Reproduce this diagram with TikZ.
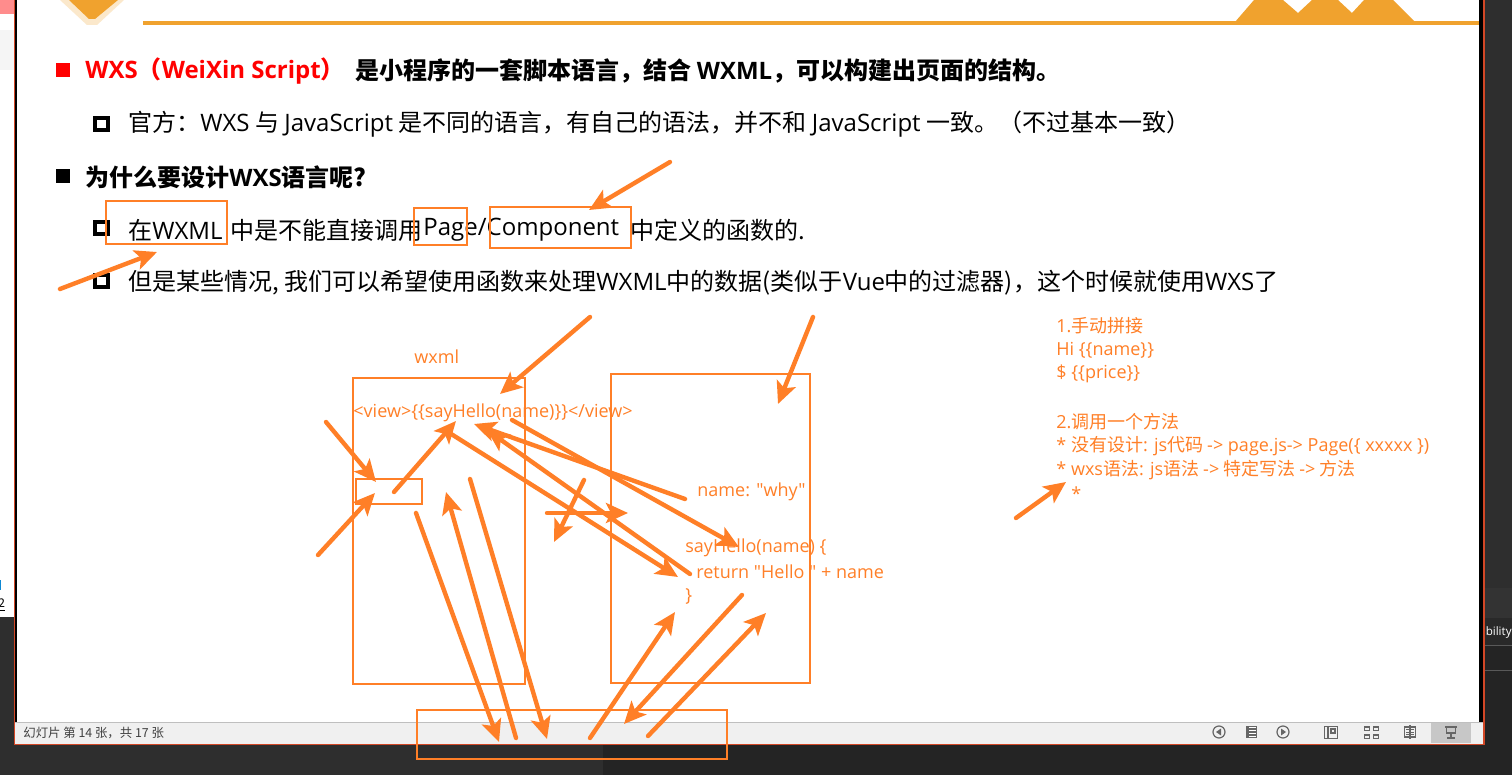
\documentclass[tikz,border=0pt]{standalone}
\usepackage{fontspec}
\setmainfont{Noto Sans CJK SC}[Ligatures=TeXOff]
\newfontfamily\latinfont{Open Sans}[Ligatures=TeXOff]
\usetikzlibrary{arrows.meta}

\definecolor{inkorange}{HTML}{FF7F27}
\definecolor{headeramber}{HTML}{F0A22E}
\definecolor{redge}{HTML}{D24726}
\definecolor{iconGrey}{HTML}{666666}

\newcommand{\lat}[1]{{\latinfont #1}}

\tikzset{
    slidetext/.style={anchor=west, inner sep=0pt, text=black, font=\fontsize{12}{14}\selectfont},
    boldtext/.style={slidetext, font=\fontsize{12}{14}\selectfont\bfseries},
    inktext/.style={anchor=west, inner sep=0pt, text=inkorange, font=\fontsize{9}{11}\selectfont},
    inkbox/.style={draw=inkorange, line width=1pt},
    inkarrow/.style={draw=inkorange, line width=2.2pt, line cap=round, -{Stealth[length=11pt,width=10pt,inset=2.5pt]}},
    iconline/.style={draw=iconGrey, line width=0.6pt},
}

\begin{document}
\begin{tikzpicture}[x=0.5pt,y=-0.5pt]
    \useasboundingbox (0,0) rectangle (1512,775);

    % window behind the slide
    \fill[white] (0,0) rectangle (15,617);
    \fill[red!45] (0,0) rectangle (15,14);
    \fill[black!4] (0,30) rectangle (15,70);
    \fill[cyan!70!blue] (0,580) rectangle (1,590);
    \fill[black!82] (0,617) rectangle (603,775);
    \fill[black!86] (603,617) rectangle (1512,775);
    \fill[black!82] (1483,0) rectangle (1512,617);
    \fill[black!80] (1484,588) rectangle (1512,618);
    \fill[black!84] (1484,618) rectangle (1512,645);
    \draw[black!65] (1484,645) -- (1512,645);
    \draw[black!65] (1484,670) -- (1512,670);
    \node[anchor=east, inner sep=0pt, text=white, font=\fontsize{5.8}{7}\selectfont] (clipped) at (1512,632) {\lat{bility}};
    \node[anchor=west, inner sep=0pt, text=black, font=\fontsize{6}{7}\selectfont] (clippedNum) at (-2,605) {\underline{2}};

    % slide
    \fill[redge] (14,0) rectangle (1484.5,745);
    \fill[black] (15,0) rectangle (1483,722);
    \fill[white] (17,0) rectangle (1479,722);

    % header
    \fill[headeramber] (143,21.5) rectangle (1479,25);
    \fill[headeramber] (1235,22) -- (1254,0) -- (1283,0) -- (1298,13) -- (1312,0) -- (1338,0) -- (1352,13) -- (1364,0) -- (1393,0) -- (1415,22) -- cycle;
    \fill[headeramber!25] (60,0) -- (124,0) -- (97,25) -- (87,25) -- cycle;
    \fill[headeramber] (69,0) -- (118,0) -- (95,19) -- (89,19) -- cycle;

    % bullets
    \fill[red] (56,63.5) rectangle (69.5,77);
    \fill[black] (56,169.5) rectangle (69.5,183);
    \foreach \y in {116,220,273}
        \draw[black, line width=2pt] (95,\y+2) rectangle (108,\y+14);

    % slide text
    \node[boldtext, text=red] (wxsName) at (85,71) {\lat{WXS}（\lat{WeiXin Script}）};
    \node[boldtext] (wxsIntro) at (355,71) {是小程序的一套脚本语言，结合 \lat{WXML}，可以构建出页面的结构。};
    \node[slidetext] (official) at (128,124) {官方：\lat{WXS} 与 \lat{JavaScript} 是不同的语言，有自己的语法，并不和 \lat{JavaScript} 一致。（不过基本一致）};
    \node[boldtext] (whyDesign) at (85,177) {为什么要设计\lat{WXS}语言呢?};
    \node[slidetext] (noCallA) at (128,230) {在\lat{WXML}};
    \node[slidetext] (noCallB) at (230,230) {中是不能直接调用};
    \node[slidetext] (noCallC) at (423,230) {\lat{Page/Component}};
    \node[slidetext] (noCallD) at (630,230) {中定义的函数的.};
    \node[slidetext] (someCase) at (128,283) {但是某些情况, 我们可以希望使用函数来处理\lat{WXML}中的数据(类似于\lat{Vue}中的过滤器)，这个时候就使用\lat{WXS}了};

    % status bar
    \fill[black!6] (15,722) rectangle (1483,744);
    \draw[black!25] (15,722) -- (1483,722);
    \fill[black!22] (1431,723) rectangle (1471,743);
    \node[anchor=west, inner sep=0pt, text=black!75, font=\fontsize{6.2}{7}\selectfont] (slideCount) at (23,733) {幻灯片 第 14 张，共 17 张};
    \draw[iconline] (1219,732) circle (6);
    \fill[iconGrey] (1216,732) -- (1221,728.5) -- (1221,735.5) -- cycle;
    \fill[iconGrey] (1246,726) rectangle (1257,738);
    \foreach \y in {728,731,734,737}
        \draw[white, line width=0.4pt] (1249,\y-0.5) -- (1256,\y-0.5);
    \draw[iconline] (1283,732) circle (6);
    \fill[iconGrey] (1286,732) -- (1281,728.5) -- (1281,735.5) -- cycle;
    \draw[iconline] (1324.5,726.5) rectangle (1337.5,738.5);
    \draw[iconline] (1328,726.5) -- (1328,738.5) -- (1337.5,738.5);
    \draw[iconline] (1331,729) rectangle (1335,733);
    \foreach \x in {1364.5,1373.5}
        \foreach \y in {727,735}
            \draw[iconline] (\x,\y) rectangle (\x+5,\y+3.5);
    \draw[iconline] (1404.5,727) rectangle (1415.5,737);
    \draw[iconline] (1410,725) -- (1410,739);
    \foreach \y in {729.5,732,734.5} {
        \draw[iconGrey, line width=0.3pt] (1406,\y) -- (1409,\y);
        \draw[iconGrey, line width=0.3pt] (1411,\y) -- (1414,\y);
    }
    \draw[iconGrey, line width=0.9pt] (1445,727) -- (1457,727);
    \draw[iconline] (1446.5,727) rectangle (1455.5,733);
    \draw[iconline] (1451,733) -- (1451,738);
    \draw[iconline] (1447,738) -- (1455,738);

    % handwritten boxes
    \draw[inkbox] (105.5,201) rectangle (227,244);
    \draw[inkbox] (413.5,208) rectangle (467,245);
    \draw[inkbox] (490,207) rectangle (631,248);
    \draw[inkbox] (353,378) rectangle (525,684);
    \draw[inkbox] (611,374) rectangle (810,683);
    \draw[inkbox] (356,479) rectangle (422,504);
    \draw[inkbox] (417,710) rectangle (727,759);

    % typed notes
    \node[inktext] (wxmlTitle) at (414,357) {\lat{wxml}};
    \node[inktext] (viewLine) at (353,413) {\lat{<view>\{\{sayHello(name)\}\}</view>}};
    \node[inktext] (nameData) at (697,492) {\lat{name: "why"}};
    \node[inktext] (funcHead) at (685,548) {\lat{sayHello(name) \{}};
    \node[inktext] (funcBody) at (696,572) {\lat{return "Hello " + name}};
    \node[inktext] (funcEnd) at (685,596) {\lat{\}}};
    \node[inktext] (noteA) at (1056,326) {\lat{1.}手动拼接};
    \node[inktext] (noteB) at (1056,350) {\lat{Hi \{\{name\}\}}};
    \node[inktext] (noteC) at (1056,374) {\lat{\$ \{\{price\}\}}};
    \node[inktext] (noteD) at (1056,422) {\lat{2.}调用一个方法};
    \node[inktext] (noteE) at (1056,446) {\lat{* }没有设计\lat{: js}代码 \lat{-> page.js-> Page(\{ xxxxx \})}};
    \node[inktext] (noteF) at (1056,470) {\lat{* wxs}语法\lat{: js}语法 \lat{->} 特定写法 \lat{->} 方法};
    \node[inktext] (noteG) at (1071,494) {\lat{*}};

    % handwritten arrows
    \draw[inkarrow] (670,162) -- (589,210);
    \draw[inkarrow] (60,289) -- (157,252);
    \draw[inkarrow] (590,317) -- (500,394);
    \draw[inkarrow] (813,317) -- (778,404);
    \draw[inkarrow] (326,422) -- (376,482);
    \draw[inkarrow] (318,555) -- (375,493);
    \draw[inkarrow] (394,492) -- (456,421);
    \draw[inkarrow] (685,499) -- (474,424);
    \draw[inkarrow] (690,574) -- (487,430);
    \draw[inkarrow] (448,432) -- (678,577);
    \draw[inkarrow] (512,420) -- (739,547);
    \draw[inkarrow] (584,480) -- (554,542);
    \draw[inkarrow] (547,513) -- (628,513);
    \draw[inkarrow] (416,513) -- (499,742);
    \draw[inkarrow] (516,738) -- (446,492);
    \draw[inkarrow] (470,479) -- (547,739);
    \draw[inkarrow] (590,738) -- (675,612);
    \draw[inkarrow] (742,595) -- (624,724);
    \draw[inkarrow] (648,736) -- (766,613);
    \draw[inkarrow] (1016,518) -- (1066,482);
\end{tikzpicture}
\end{document}
